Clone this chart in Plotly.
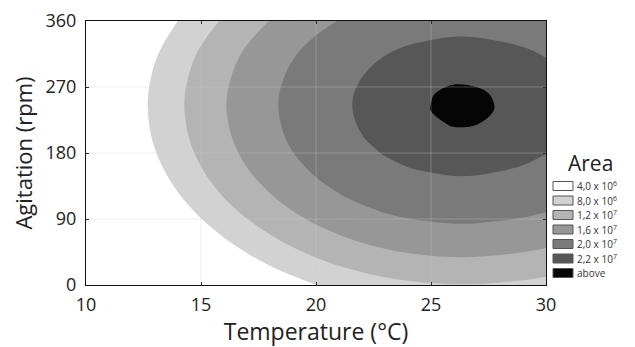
import numpy as np
import plotly.graph_objects as go

# ---- data (Area in units of 10^6) ----
temperature = [10, 11, 12, 13, 14, 15, 16, 17, 18, 19, 20,
               21, 22, 23, 24, 25, 26, 27, 28, 29, 30]
# drop of Area below the optimum along Temperature (at optimum agitation)
temp_drop = [26.08, 22.99, 20.09, 17.39, 14.88, 12.57, 10.45, 8.53, 6.80, 5.27, 3.93,
             2.79, 1.85, 1.09, 0.54, 0.22, 0.01, 0.06, 0.30, 0.64, 1.18]
agitation = [0, 20, 40, 60, 80, 100, 120, 140, 160, 180, 200,
             220, 240, 260, 280, 300, 320, 340, 360]
# drop of Area below the optimum along Agitation (at optimum temperature)
agit_drop = [14.35, 12.10, 10.04, 8.18, 6.51, 5.02, 3.73, 2.63, 1.73, 1.01, 0.48,
             0.17, 0.01, 0.06, 0.33, 0.76, 1.40, 2.30, 3.35]
peak_area = 22.25

x_ticks = [10, 15, 20, 25, 30]
y_ticks = [0, 90, 180, 270, 360]

legend_labels = ["4,0 x 10<sup>6</sup>", "8,0 x 10<sup>6</sup>", "1,2 x 10<sup>7</sup>",
                 "1,6 x 10<sup>7</sup>", "2,0 x 10<sup>7</sup>", "2,2 x 10<sup>7</sup>", "above"]
band_colors = ["#ffffff", "#d2d2d2", "#b4b4b4", "#979797", "#7a7a7a", "#575757", "#050505"]

# response surface table (rows = agitation, cols = temperature)
z = peak_area - np.add.outer(np.array(agit_drop), np.array(temp_drop))

# contour levels 4..22 step 2 -> map to the 7 legend bands
colorscale = [
    [0.0, band_colors[0]],
    [0.1, band_colors[1]], [0.2, band_colors[1]],
    [0.3, band_colors[2]], [0.4, band_colors[2]],
    [0.5, band_colors[3]], [0.6, band_colors[3]],
    [0.7, band_colors[4]], [0.8, band_colors[4]],
    [0.9, band_colors[5]],
    [1.0, band_colors[6]],
]

fig = go.Figure()
fig.add_trace(go.Contour(
    x=temperature, y=agitation, z=z,
    contours=dict(start=4, end=22, size=2, coloring="fill", showlines=False),
    line=dict(width=0),
    colorscale=colorscale,
    showscale=False,
    hoverinfo="skip",
))

# the page body adds an 8px offset; compensate so the plot lands where the reference has it
OFF = 8
W, H = 635 - OFF, 347 - OFF
ML, MT = 86 - OFF, 21 - OFF
PW, PH = 460, 264
MR, MB = W - ML - PW, H - MT - PH


def px_x(p):
    return (p - OFF - ML) / PW


def px_y(p):
    return (MT + PH - (p - OFF)) / PH


shapes = []
grid_col = "rgba(205,205,205,0.32)"
for v in x_ticks[1:-1]:
    shapes.append(dict(type="line", xref="x", yref="paper", x0=v, x1=v, y0=0, y1=1,
                       line=dict(color=grid_col, width=1), layer="above"))
for v in y_ticks[1:-1]:
    shapes.append(dict(type="line", xref="paper", yref="y", x0=0, x1=1, y0=v, y1=v,
                       line=dict(color=grid_col, width=1), layer="above"))

annotations = [dict(text="Area", xref="paper", yref="paper", x=px_x(590), y=px_y(163),
                    showarrow=False, xanchor="center", yanchor="middle",
                    font=dict(family="Open Sans", size=21, color="#222"))]
for i, (lab, col) in enumerate(zip(legend_labels, band_colors)):
    cy = 186 + 14.5 * i
    shapes.append(dict(type="rect", xref="paper", yref="paper",
                       x0=px_x(553), x1=px_x(573), y0=px_y(cy + 4.5), y1=px_y(cy - 4.5),
                       fillcolor=col, line=dict(color="#555", width=1)))
    annotations.append(dict(text=lab, xref="paper", yref="paper", x=px_x(575), y=px_y(cy),
                            showarrow=False, xanchor="left", yanchor="middle",
                            font=dict(family="Open Sans", size=10, color="#333")))

axis_common = dict(showgrid=False, zeroline=False, showline=True, linecolor="#111",
                   linewidth=1, mirror="ticks", ticks="inside", ticklen=3, tickcolor="#111",
                   tickfont=dict(family="Open Sans", size=18, color="#222"),
                   layer="above traces", automargin=False)

fig.update_layout(
    width=W, height=H,
    margin=dict(l=ML, r=MR, t=MT, b=MB, autoexpand=False),
    paper_bgcolor="white", plot_bgcolor="white",
    showlegend=False,
    xaxis=dict(range=[10, 30], tickvals=x_ticks, ticklabelstandoff=3,
               title=dict(text="Temperature (°C)", standoff=2,
                          font=dict(family="Open Sans", size=23, color="#222")),
               **axis_common),
    yaxis=dict(range=[0, 360], tickvals=y_ticks, ticklabelstandoff=5,
               title=dict(text="Agitation (rpm)", standoff=9,
                          font=dict(family="Open Sans", size=22, color="#222")),
               **axis_common),
    shapes=shapes,
    annotations=annotations,
)

fig.write_html("out.html")
